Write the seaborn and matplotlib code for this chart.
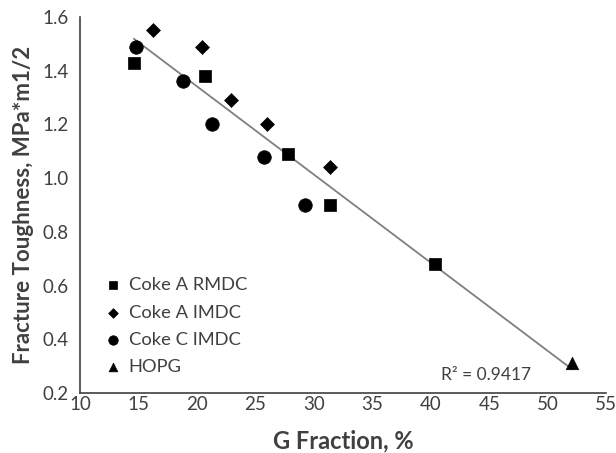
import matplotlib
matplotlib.use("Agg")
import matplotlib.pyplot as plt
import seaborn as sns
import numpy as np
import pandas as pd

sns.set_style("white")
plt.rcParams['font.family'] = ['Lato', 'DejaVu Sans']

# Data
rmdc_x = [14.6, 20.7, 27.8, 31.4, 40.4]
rmdc_y = [1.43, 1.38, 1.09, 0.90, 0.68]
aimdc_x = [16.2, 20.4, 22.9, 26.0, 31.4]
aimdc_y = [1.55, 1.49, 1.29, 1.20, 1.04]
cimdc_x = [14.8, 18.8, 21.3, 25.7, 29.2]
cimdc_y = [1.49, 1.36, 1.20, 1.08, 0.90]
hopg_x = [52.1]
hopg_y = [0.31]

series = [
    ("Coke A RMDC", rmdc_x, rmdc_y, "s", 75),
    ("Coke A IMDC", aimdc_x, aimdc_y, "D", 50),
    ("Coke C IMDC", cimdc_x, cimdc_y, "o", 95),
    ("HOPG", hopg_x, hopg_y, "^", 80),
]

fig = plt.figure(figsize=(6.16, 4.53), dpi=100)
ax = fig.add_axes([0.13, 0.1325, 0.854, 0.83])

all_x, all_y = [], []
for name, xs, ys, m, s in series:
    sns.scatterplot(x=xs, y=ys, marker=m, s=s, color="black", edgecolor="black",
                    linewidth=0.5, label=name, ax=ax, zorder=3)
    all_x += xs
    all_y += ys

df = pd.DataFrame({"x": all_x, "y": all_y})
sns.regplot(data=df, x="x", y="y", scatter=False, ci=None, ax=ax,
            line_kws=dict(color="#7f7f7f", linewidth=1.3, zorder=2))

ax.set_xlim(10, 55)
ax.set_ylim(0.2, 1.6)
ax.set_xticks(np.arange(10, 56, 5))
ax.set_yticks(np.arange(0.2, 1.61, 0.2))
ax.set_yticklabels([f"{v:.1f}" for v in np.arange(0.2, 1.61, 0.2)])
ax.tick_params(length=0, labelsize=13.5, labelcolor="#404040")
ax.tick_params(axis="y", pad=8)
ax.tick_params(axis="x", pad=2)
for sp in ["top", "right"]:
    ax.spines[sp].set_visible(False)
for sp in ["left", "bottom"]:
    ax.spines[sp].set_color("#404040")
    ax.spines[sp].set_linewidth(1.2)

ax.set_xlabel("G Fraction, %", fontsize=17, fontweight="bold", color="#404040", labelpad=12)
ax.set_ylabel("Fracture Toughness, MPa*m1/2", fontsize=16, fontweight="bold", color="#404040", labelpad=6)

ax.text(44.7, 0.267, "R² = 0.9417", fontsize=12.5, color="#404040", ha="center", va="center")

leg = ax.legend(loc="lower left", bbox_to_anchor=(0.046, 0.047), frameon=False, fontsize=13.2,
                handlelength=1.0, handletextpad=0.33, labelspacing=0.62,
                borderaxespad=0, borderpad=0, markerscale=0.7)
for t in leg.get_texts():
    t.set_color("#404040")

fig.savefig("out.png", dpi=100)
